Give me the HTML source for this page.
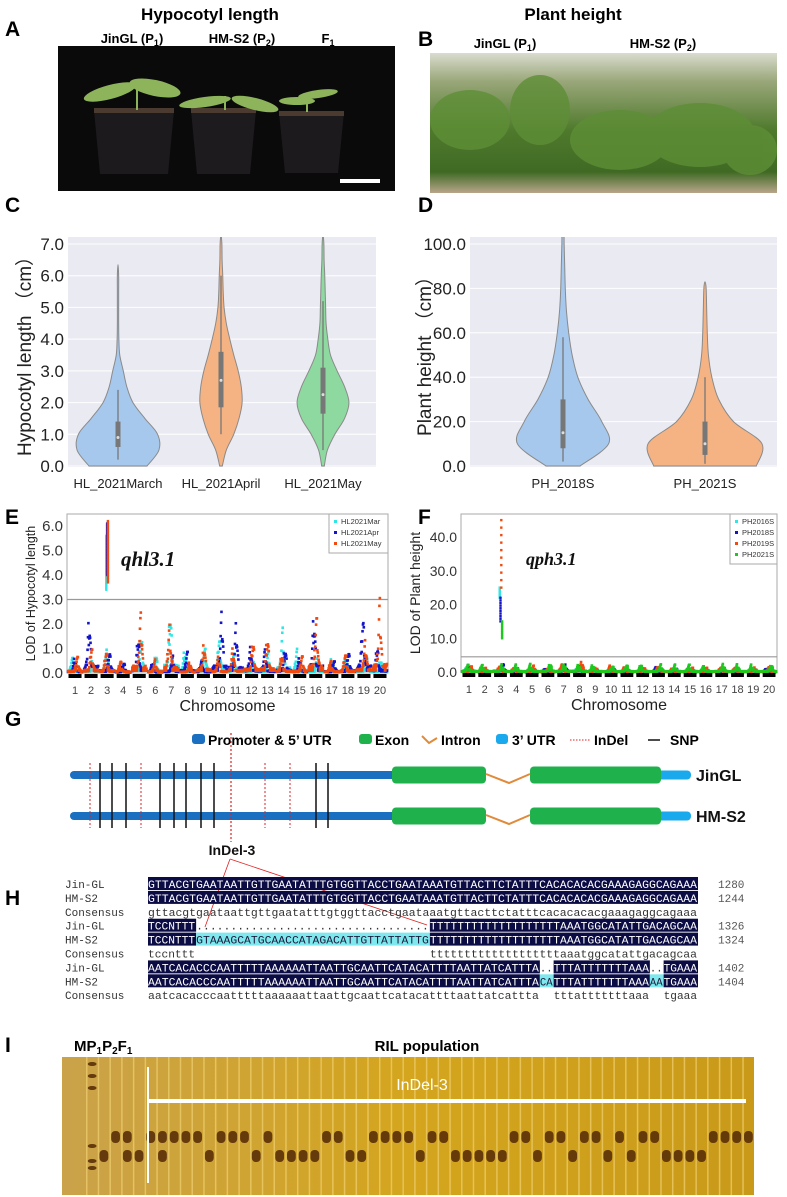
<!DOCTYPE html>
<html><head><meta charset="utf-8">
<style>
html,body{margin:0;padding:0;background:#fff;}
svg{display:block;font-family:"Liberation Sans",sans-serif;}
</style></head>
<body>
<svg id="fig" width="787" height="1197" viewBox="0 0 787 1197" xmlns="http://www.w3.org/2000/svg">
<defs>
<linearGradient id="bgB" x1="0" y1="0" x2="0" y2="1">
<stop offset="0" stop-color="#d9dccf"/><stop offset="0.2" stop-color="#9aa77a"/><stop offset="0.55" stop-color="#4f7a2c"/><stop offset="0.85" stop-color="#3f6a24"/><stop offset="1" stop-color="#b8a58a"/>
</linearGradient>
<linearGradient id="gel" x1="0" y1="0" x2="1" y2="0">
<stop offset="0" stop-color="#caa24a"/><stop offset="0.5" stop-color="#d4a51d"/><stop offset="1" stop-color="#c99a1a"/>
</linearGradient>
</defs>

<!-- Panel A -->
<g>
<text x="5" y="36" font-size="21" font-weight="bold">A</text>
<text x="210" y="20" font-size="17" font-weight="bold" text-anchor="middle">Hypocotyl length</text>
<text x="132" y="43" font-size="13" font-weight="bold" text-anchor="middle">JinGL (P<tspan font-size="9" dy="3">1</tspan><tspan dy="-3">)</tspan></text>
<text x="242" y="43" font-size="13" font-weight="bold" text-anchor="middle">HM-S2 (P<tspan font-size="9" dy="3">2</tspan><tspan dy="-3">)</tspan></text>
<text x="328" y="43" font-size="13" font-weight="bold" text-anchor="middle">F<tspan font-size="9" dy="3">1</tspan></text>
<rect x="58" y="46" width="337" height="145" fill="#0b0a0b"/>
<g>
<path d="M94 110 L174 110 L168 174 L100 174 Z" fill="#1d1a1e"/>
<path d="M191 110 L256 110 L250 174 L197 174 Z" fill="#1e1b1f"/>
<path d="M279 112 L344 112 L338 173 L285 173 Z" fill="#1d1a1e"/>
<rect x="94" y="108" width="80" height="5" fill="#4a3a30"/>
<rect x="191" y="108" width="65" height="5" fill="#4a3a30"/>
<rect x="279" y="111" width="65" height="5" fill="#4a3a30"/>
</g>
<g fill="#8db45a">
<ellipse cx="110" cy="92" rx="27" ry="7" transform="rotate(-15 110 92)"/>
<ellipse cx="155" cy="88" rx="26" ry="8" transform="rotate(12 155 88)"/>
<ellipse cx="205" cy="102" rx="26" ry="5" transform="rotate(-8 205 102)"/>
<ellipse cx="255" cy="104" rx="24" ry="6" transform="rotate(14 255 104)"/>
<ellipse cx="297" cy="101" rx="18" ry="4"/>
<ellipse cx="318" cy="94" rx="20" ry="4" transform="rotate(-8 318 94)"/>
</g>
<g stroke="#8db45a" stroke-width="2">
<line x1="137" y1="82" x2="137" y2="110"/><line x1="225" y1="96" x2="225" y2="110"/><line x1="307" y1="94" x2="307" y2="112"/>
</g>
<rect x="340" y="179" width="40" height="4" fill="#fff"/>
</g>

<!-- Panel B -->
<g>
<text x="418" y="46" font-size="21" font-weight="bold">B</text>
<text x="573" y="20" font-size="17" font-weight="bold" text-anchor="middle">Plant height</text>
<text x="505" y="48" font-size="13" font-weight="bold" text-anchor="middle">JinGL (P<tspan font-size="9" dy="3">1</tspan><tspan dy="-3">)</tspan></text>
<text x="663" y="48" font-size="13" font-weight="bold" text-anchor="middle">HM-S2 (P<tspan font-size="9" dy="3">2</tspan><tspan dy="-3">)</tspan></text>
<rect x="430" y="53" width="347" height="140" fill="url(#bgB)"/>
<g fill="#5e8e36" opacity="0.8">
<ellipse cx="470" cy="120" rx="40" ry="30"/><ellipse cx="540" cy="110" rx="30" ry="35"/><ellipse cx="620" cy="140" rx="50" ry="30"/><ellipse cx="700" cy="135" rx="55" ry="32"/><ellipse cx="750" cy="150" rx="27" ry="25"/>
</g>
</g>

<g id="panelC">
<text x="5" y="212" font-size="21" font-weight="bold">C</text>
</g>
<g id="panelD">
<text x="418" y="212" font-size="21" font-weight="bold">D</text>
</g>
<g id="panelE">
<text x="5" y="524" font-size="21" font-weight="bold">E</text>
</g>
<g id="panelF">
<text x="418" y="524" font-size="21" font-weight="bold">F</text>
</g>

<g id="panelG">
<text x="5" y="726" font-size="21" font-weight="bold">G</text>
<g font-size="14" font-weight="bold">
<rect x="192" y="734" width="13" height="10" rx="3" fill="#1a6fc0"/><text x="208" y="745">Promoter &amp; 5’ UTR</text>
<rect x="359" y="734" width="13" height="10" rx="3" fill="#1fb14c"/><text x="375" y="745">Exon</text>
<polyline points="422,736 429,743 437,738" fill="none" stroke="#e08a3a" stroke-width="2"/><text x="441" y="745">Intron</text>
<rect x="496" y="734" width="12" height="10" rx="3" fill="#1aa9ec"/><text x="512" y="745">3’ UTR</text>
<line x1="570" y1="740" x2="590" y2="740" stroke="#e02020" stroke-dasharray="1.5,1.5"/><text x="594" y="745">InDel</text>
<line x1="648" y1="740" x2="660" y2="740" stroke="#111" stroke-width="1.5"/><text x="670" y="745">SNP</text>
</g>
</g>

<g id="panelH">
<text x="5" y="905" font-size="21" font-weight="bold">H</text>
</g>

<g id="panelI">
<text x="5" y="1052" font-size="21" font-weight="bold">I</text>
<text x="74" y="1051" font-size="15" font-weight="bold">MP<tspan font-size="10" dy="3">1</tspan><tspan dy="-3">P</tspan><tspan font-size="10" dy="3">2</tspan><tspan dy="-3">F</tspan><tspan font-size="10" dy="3">1</tspan></text>
<text x="427" y="1051" font-size="15" font-weight="bold" text-anchor="middle">RIL population</text>
<rect x="62" y="1057" width="692" height="138" fill="url(#gel)"/>
</g>
</svg>

<script>
var NS="http://www.w3.org/2000/svg";
function mk(tag,attrs,parent,txt){var e=document.createElementNS(NS,tag);for(var k in attrs)e.setAttribute(k,attrs[k]);if(txt!==undefined)e.textContent=txt;parent.appendChild(e);return e;}

/* ---------- Panel C data ---------- */
var cCategories=["HL_2021March","HL_2021April","HL_2021May"];
var cFill=["#a6c8ec","#f5b383","#8ed9a0"];
var cDensityLevels=[0,0.5,1,1.5,2,2.5,3,3.5,4,4.5,5,5.5,6,6.5,7];
var cDensityMarch=[0.66,0.93,0.9,0.61,0.34,0.2,0.12,0.04,0.02,0.015,0.015,0.015,0.015,0,0];
var cDensityApril=[0.03,0.12,0.29,0.41,0.48,0.46,0.39,0.29,0.2,0.12,0.07,0.05,0.04,0.025,0.02];
var cDensityMay=[0.03,0.1,0.27,0.49,0.59,0.49,0.32,0.17,0.11,0.07,0.06,0.05,0.04,0.025,0.02];
var cQ1=[0.6,1.85,1.65],cMedian=[0.9,2.7,2.25],cQ3=[1.4,3.6,3.1],cWhiskLo=[0.2,1.0,0.5],cWhiskHi=[2.4,6.0,5.2];
var cMax=[6.35,7.3,7.3];
var cYTicks=[0,1,2,3,4,5,6,7];

/* ---------- Panel D data ---------- */
var dCategories=["PH_2018S","PH_2021S"];
var dFill=["#a6c8ec","#f5b383"];
var dDensityLevels=[0,10,20,30,40,50,60,70,80,90,100,110];
var dDensity2018=[0.3,0.8,0.68,0.44,0.26,0.16,0.1,0.06,0.04,0.03,0.02,0.016];
var dDensity2021=[0.9,1.0,0.5,0.24,0.12,0.06,0.04,0.03,0.02,0,0,0];
var dQ1=[8,5],dMedian=[15,10],dQ3=[30,20],dWhiskLo=[2,1],dWhiskHi=[58,40];
var dMax=[115,83];
var dYTicks=[0,20,40,60,80,100];

/* ---------- Panel E data ---------- */
var eChromosomes=["1","2","3","4","5","6","7","8","9","10","11","12","13","14","15","16","17","18","19","20"];
var eSeries=["HL2021Mar","HL2021Apr","HL2021May"];
var eMar=[0.7,0.6,1.0,0.4,1.8,0.9,2.95,1.0,1.2,1.6,1.0,0.5,0.9,2.0,1.1,0.7,0.7,0.7,0.9,0.6];
var eApr=[0.7,2.6,1.0,0.5,1.6,0.5,0.8,1.0,0.6,2.6,2.2,1.2,1.0,1.2,0.7,2.6,0.6,1.0,2.7,1.2];
var eMay=[0.8,1.2,1.0,0.6,2.6,0.6,2.2,0.5,1.4,0.7,1.1,1.5,1.7,0.9,0.8,2.7,0.6,0.9,1.5,3.2];
var eMainLow=[3.4,4.0,3.7];
var eMainHigh=[5.6,6.1,6.2];
var eYTicks=[0,1,2,3,4,5,6];
var eThreshold=3.0;

/* ---------- Panel F data ---------- */
var fSeries=["PH2016S","PH2018S","PH2019S","PH2021S"];
var f2016=[1.5,1.0,1.5,1.2,1.0,1.0,1.5,1.0,1.2,1.0,1.0,1.0,1.2,1.0,1.0,1.0,1.2,1.0,1.0,1.0];
var f2018=[2.5,1.5,3.0,1.5,1.2,1.2,2.5,2.0,1.5,1.5,1.2,1.5,1.5,1.5,1.2,1.5,1.5,1.2,1.5,1.2];
var f2019=[2.0,1.5,2.0,1.5,2.0,1.0,2.5,3.5,1.5,2.0,1.5,1.5,2.0,1.5,1.5,1.5,1.5,1.5,1.5,1.5];
var f2021=[2.5,2.5,2.5,2.5,2.5,3.0,2.5,2.5,2.5,2.0,2.5,2.5,2.5,2.5,2.5,2.0,2.5,2.5,2.5,2.5];
var fMainLow=[22,15,25,10];
var fMainHigh=[25,22,45,15];
var fYTicks=[0,10,20,30,40];
var fThreshold=4.5;

/* ---------- Panel I band data: U upper, L lower, H both ---------- */
var gelLanes="LUHUUULUUULULLLLUULLUUUULUULLLLLUULUULUULULUULLLLUUUU";

function violinPanel(g,o){
  var yS=function(v){return o.y0-(v-o.vmin)/(o.vmax-o.vmin)*(o.y0-o.y1);};
  var bg=mk('rect',{x:o.x0,y:o.top,width:o.x1-o.x0,height:o.y0-o.top+1,fill:'#eaeaf2'},g);
  
  
  var clipId='clip'+o.id;
  var cp=mk('clipPath',{id:clipId},g);mk('rect',{x:o.x0,y:o.top,width:o.x1-o.x0,height:o.y0-o.top+1},cp);
  o.ticks.forEach(function(t){
    var y=yS(t);
    var gl=mk('line',{x1:o.x0,x2:o.x1,y1:y,y2:y,stroke:'#fff','stroke-width':1},g);
    
    
    var tl=mk('text',{x:o.x0-4,y:y+6,'font-size':17,'text-anchor':'end',fill:'#222'},g,t.toFixed(1));
    
    
  });
  var vg=mk('g',{'clip-path':'url(#'+clipId+')'},g);
  o.cats.forEach(function(c,i){
    var cx=o.cx[i],d=o.dens[i],L=o.levels;
    var right=[],left=[];
    for(var k=0;k<L.length;k++){if(L[k]>o.maxv[i]&&k>0)break;var w=d[k]*o.wmax;right.push([cx+w,yS(L[k])]);}
    right.push([cx,yS(o.maxv[i])]);
    for(var k2=right.length-2;k2>=0;k2--)left.push([2*cx-right[k2][0],right[k2][1]]);
    var pts=right.concat(left);
    var p=mk('path',{d:smooth(pts),fill:o.fill[i],stroke:'#8a8a8a','stroke-width':1},vg);
    
    
    var wl=mk('line',{x1:cx,x2:cx,y1:yS(o.wlo[i]),y2:yS(o.whi[i]),stroke:'#777','stroke-width':1.3},vg);
    
    
    var bx=mk('rect',{x:cx-2.5,y:yS(o.q3[i]),width:5,height:yS(o.q1[i])-yS(o.q3[i]),fill:'#777'},vg);
    
    
    var md=mk('circle',{cx:cx,cy:yS(o.med[i]),r:1.5,fill:'#ddd'},vg);
    
    
    var cl=mk('text',{x:cx,y:o.catY,'font-size':13,'text-anchor':'middle',fill:'#222'},g,c);
    
    
  });
  var yl=mk('text',{x:0,y:0,'font-size':19,'text-anchor':'middle',fill:'#222',transform:'translate('+o.ylx+','+((o.top+o.y0)/2)+') rotate(-90)'},g,o.ylabel);
  
  
}
function smooth(p){
  var d='M'+p[0][0]+','+p[0][1];
  for(var i=0;i<p.length-1;i++){
    var p0=p[i-1]||p[i],p1=p[i],p2=p[i+1],p3=p[i+2]||p2;
    var c1x=p1[0]+(p2[0]-p0[0])/6,c1y=p1[1]+(p2[1]-p0[1])/6,c2x=p2[0]-(p3[0]-p1[0])/6,c2y=p2[1]-(p3[1]-p1[1])/6;
    d+=' C'+c1x+','+c1y+' '+c2x+','+c2y+' '+p2[0]+','+p2[1];
  }
  return d+'Z';
}
violinPanel(document.getElementById('panelC'),{id:'C',x0:68,x1:376,top:237,y0:466,y1:244,vmin:0,vmax:7,ticks:cYTicks,
  cats:cCategories,cx:[118,221,323],dens:[cDensityMarch,cDensityApril,cDensityMay],levels:cDensityLevels,wmax:44,maxv:cMax,
  fill:cFill,q1:cQ1,q3:cQ3,med:cMedian,wlo:cWhiskLo,whi:cWhiskHi,catY:488,ylabel:'Hypocotyl length （cm）',ylx:31});
violinPanel(document.getElementById('panelD'),{id:'D',x0:470,x1:777,top:237,y0:466,y1:244,vmin:0,vmax:100,ticks:dYTicks,
  cats:dCategories,cx:[563,705],dens:[dDensity2018,dDensity2021],levels:dDensityLevels,wmax:57,maxv:dMax,
  fill:dFill,q1:dQ1,q3:dQ3,med:dMedian,wlo:dWhiskLo,whi:dWhiskHi,catY:488,ylabel:'Plant height （cm）',ylx:431});

function manhattan(g,o){
  var yS=function(v){return o.y0-(v/o.vmax)*(o.y0-o.y1);};
  var cw=(o.x1-o.x0)/o.chroms.length;
  var fr=mk('rect',{x:o.x0,y:o.top,width:o.x1-o.x0,height:o.y0-o.top,fill:'#fff',stroke:'#aaa','stroke-width':1},g);
  
  
  var th=mk('line',{x1:o.x0,x2:o.x1,y1:yS(o.thr),y2:yS(o.thr),stroke:'#999','stroke-width':1.2},g);
  
  
  o.ticks.forEach(function(t){
    var tl=mk('text',{x:o.x0-4,y:yS(t)+5,'font-size':o.tfs,'text-anchor':'end',fill:'#333'},g,t.toFixed(1));
    
    
  });
  var dots=mk('g',{},g);
  o.series.forEach(function(vals,s){
    vals.forEach(function(peak,c){
      var n=34;
      var pk=(0.3+0.4*(((c*5+s*3)%7)/7));
      for(var k=0;k<n;k++){
        var frac=(k+0.5)/n;
        var jitter=((k*37+c*11+s*7)%17)/17;
        var x=o.x0+cw*(c+0.05+0.9*frac);
        var bell=Math.exp(-Math.pow((frac-pk)/0.12,2));
        var v=peak*(0.12+0.88*bell)*(0.45+0.55*jitter);
        var d=mk('rect',{x:x-1.2,y:yS(v)-1.2,width:2.6,height:yS(0)-yS(v)<6?Math.max(2.6,yS(0)-yS(v)):2.6,fill:o.colors[s]},dots);
        
        
      }
    });
    // main QTL column
    var lo=o.mainLow[s],hi=o.mainHigh[s],m=o.mainN;
    for(var j=0;j<m;j++){
      var v2=lo+(hi-lo)*j/(m-1);
      var p=mk('rect',{x:o.x0+cw*(o.main+0.5)-1.2+(s-1)*0.8,y:yS(v2)-1.2,width:2.4,height:2.4,fill:o.colors[s]},dots);
      
      
    }
  });
  o.chroms.forEach(function(c,i){
    var seg=mk('rect',{x:o.x0+cw*i+1.5,y:o.y0+1,width:cw-3,height:4,fill:'#000'},g);
    
    
    var cl=mk('text',{x:o.x0+cw*(i+0.5),y:o.y0+21,'font-size':11,'text-anchor':'middle',fill:'#444'},g,c);
    
    
  });
  var xt=mk('text',{x:(o.x0+o.x1)/2,y:o.y0+38,'font-size':16,'text-anchor':'middle',fill:'#222'},g,'Chromosome');
  
  
  var yt=mk('text',{x:0,y:0,'font-size':o.ylfs,'text-anchor':'middle',fill:'#222',transform:'translate('+o.ylx+','+((o.top+o.y0)/2)+') rotate(-90)'},g,o.ylabel);
  
  
  var lg=mk('g',{},g);
  
  
  mk('rect',{x:o.lgx,y:o.top,width:o.x1-o.lgx,height:o.names.length*11+6,fill:'#fff',stroke:'#aaa'},lg);
  o.names.forEach(function(nm,s){
    var mm=mk('rect',{x:o.lgx+5,y:o.top+6+s*11,width:3,height:3,fill:o.colors[s]},lg);
    
    
    var lt=mk('text',{x:o.lgx+12,y:o.top+10+s*11,'font-size':7.5,fill:'#333'},lg,nm);
    
    
  });
  var q=mk('text',{x:o.qx,y:o.qy,'font-size':o.qfs,'font-style':'italic','font-weight':'bold','font-family':'Liberation Serif,serif',fill:'#111'},g,o.qtl);
  
  
}
manhattan(document.getElementById('panelE'),{x0:67,x1:388,top:514,y0:673,y1:526,vmax:6,ticks:eYTicks,thr:eThreshold,
  chroms:eChromosomes,series:[eMar,eApr,eMay],mainLow:eMainLow,mainHigh:eMainHigh,mainN:40,colors:['#2ee6e6','#1414c8','#f04a10'],names:eSeries,main:2,tfs:15,
  ylabel:'LOD of Hypocotyl length',ylfs:12.5,ylx:35,lgx:329,qtl:'qhl3.1',qx:121,qy:566,qfs:21});
manhattan(document.getElementById('panelF'),{x0:461,x1:777,top:514,y0:672,y1:537,vmax:40,ticks:fYTicks,thr:fThreshold,
  chroms:eChromosomes,series:[f2016,f2018,f2019,f2021],mainLow:fMainLow,mainHigh:fMainHigh,mainN:10,colors:['#2ee6e6','#1414c8','#f04a10','#1ec81e'],names:fSeries,main:2,tfs:14,
  ylabel:'LOD of Plant height',ylfs:14,ylx:420,lgx:730,qtl:'qph3.1',qx:526,qy:565,qfs:18});

(function(){
  var g=document.getElementById('panelG');
  var indelX=[90,141,265,290],snpX=[100,112,126,160,174,186,201,214,316,328];
  [775,816].forEach(function(y,r){
    var b=mk('rect',{x:70,y:y-4,width:330,height:8,rx:4,fill:'#1a6fc0'},g);
    
    
    var u=mk('rect',{x:655,y:y-4.5,width:36,height:9,rx:4,fill:'#1aa9ec'},g);
    
    
    var e1=mk('rect',{x:392,y:y-8.5,width:94,height:17,rx:4,fill:'#1fb14c'},g);
    
    
    var e2=mk('rect',{x:530,y:y-8.5,width:131,height:17,rx:4,fill:'#1fb14c'},g);
    
    
    var it=mk('polyline',{points:'486,'+(y-1)+' 509,'+(y+8)+' 530,'+(y-1),fill:'none',stroke:'#e08a3a','stroke-width':2},g);
    
    
    var lb=mk('text',{x:696,y:y+6,'font-size':16,'font-weight':'bold',fill:'#111'},g,r===0?'JinGL':'HM-S2');
    
    
  });
  snpX.forEach(function(x){var l=mk('line',{x1:x,x2:x,y1:763,y2:828,stroke:'#111','stroke-width':1.5},g);
    
    });
  indelX.forEach(function(x){var l=mk('line',{x1:x,x2:x,y1:763,y2:828,stroke:'#e02020','stroke-width':1,'stroke-dasharray':'2,2'},g);
    
    });
  var t=mk('line',{x1:231,x2:231,y1:733,y2:842,stroke:'#e02020','stroke-width':1.2,'stroke-dasharray':'2,2'},g);
  
  
  var lt=mk('text',{x:232,y:855,'font-size':14,'font-weight':'bold','text-anchor':'middle',fill:'#111'},g,'InDel-3');
  
  
  var a=mk('line',{x1:230,y1:859,x2:205,y2:927,stroke:'#e02020','stroke-width':0.8},g);
  
  
  var b2=mk('line',{x1:230,y1:859,x2:427,y2:925,stroke:'#e02020','stroke-width':0.8},g);
  
  
})();

(function(){
  var g=document.getElementById('panelH');
  var x0=148,cw=550/80;
  var s1="GTTACGTGAATAATTGTTGAATATTTGTGGTTACCTGAATAAATGTTACTTCTATTTCACACACACGAAAGAGGCAGAAA";
  var t1="TTTTTTTTTTTTTTTTTTTAAATGGCATATTGACAGCAA";
  var ins="GTAAAGCATGCAACCATAGACATTGTTATTATTG";
  var r3a="AATCACACCCAATTTTTAAAAAATTAATTGCAATTCATACATTTTAATTATCATTTA";
  var rows=[
    ['Jin-GL',[[0,s1,'n']],'1280'],['HM-S2',[[0,s1,'n']],'1244'],['Consensus',[[0,s1.toLowerCase(),'']],''],
    ['Jin-GL',[[0,'TCCNTTT','n'],[7,'..................................',''],[41,t1,'n']],'1326'],
    ['HM-S2',[[0,'TCCNTTT','n'],[7,ins,'c'],[41,t1,'n']],'1324'],
    ['Consensus',[[0,'tccnttt',''],[41,t1.toLowerCase(),'']],''],
    ['Jin-GL',[[0,r3a,'n'],[57,'..',''],[59,'TTTATTTTTTTAAA','n'],[73,'..',''],[75,'TGAAA','n']],'1402'],
    ['HM-S2',[[0,r3a,'n'],[57,'CA','c'],[59,'TTTATTTTTTTAAA','n'],[73,'AA','c'],[75,'TGAAA','n']],'1404'],
    ['Consensus',[[0,r3a.toLowerCase(),''],[59,'tttatttttttaaa',''],[75,'tgaaa','']],'']
  ];
  rows.forEach(function(r,i){
    var y=884+i*13.9;
    var nm=mk('text',{x:65,y:y+4,'font-size':11,'font-family':'Liberation Mono,monospace',fill:'#333'},g,r[0]);
    
    
    r[1].forEach(function(bk){
      var bx=x0+bk[0]*cw,w=bk[1].length*cw;
      if(bk[2]){var rc=mk('rect',{x:bx,y:y-7,width:w,height:13,fill:bk[2]==='n'?'#0c0c44':'#7fe8ee'},g);
        
        }
      var tx=mk('text',{x:bx,y:y+4,'font-size':11,'font-family':'Liberation Mono,monospace',fill:bk[2]==='n'?'#fff':(bk[2]==='c'?'#1a1a3a':'#333'),textLength:w-1,lengthAdjust:'spacingAndGlyphs'},g,bk[1]);
      
      
    });
    if(r[2]){var n=mk('text',{x:718,y:y+4,'font-size':11,'font-family':'Liberation Mono,monospace',fill:'#555'},g,r[2]);
      
      }
  });
})();

(function(){
  var g=document.getElementById('panelI');
  var n=gelLanes.length+4,lw=(754-86)/n;
  for(var i=0;i<n;i++){
    var x=86+i*lw;
    var st=mk('rect',{x:x,y:1057,width:1.5,height:138,fill:'#f0d070',opacity:0.7},g);
    
    
    var t=i===0?'M':(i===1?'L':(i===2?'U':(i===3?'H':gelLanes[i-4])));
    var bands=[];
    if(t==='M')bands=[1068,1080,1092,1150,1165,1172];
    else{if(t==='U'||t==='H')bands.push(1137);if(t==='L'||t==='H')bands.push(1156);}
    bands.forEach(function(by){
      var b=mk('rect',{x:x+lw*0.15,y:by-6,width:lw*0.75,height:t==='M'?4:12,rx:4,fill:'#5a3008',opacity:0.9},g);
      
      
    });
  }
  var v=mk('line',{x1:148,x2:148,y1:1067,y2:1183,stroke:'#fff','stroke-width':2},g);
  
  
  var h=mk('line',{x1:148,x2:746,y1:1101,y2:1101,stroke:'#fff','stroke-width':4},g);
  
  
  var t=mk('text',{x:422,y:1090,'font-size':16,'text-anchor':'middle',fill:'#fff'},g,'InDel-3');
  
  
})();
</script>
</body></html>
